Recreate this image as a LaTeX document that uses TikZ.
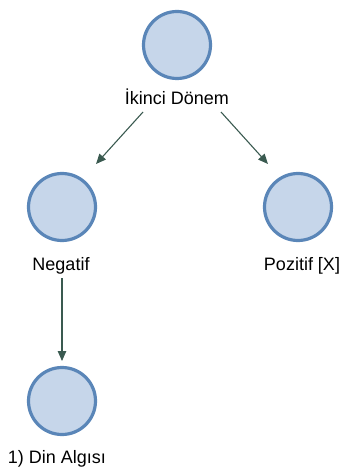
\documentclass[tikz,border=0pt]{standalone}
\usepackage{fontspec}
\setmainfont{Liberation Sans}
\usetikzlibrary{arrows.meta}
\definecolor{cfill}{HTML}{C6D6EA}
\definecolor{cline}{HTML}{5A86B8}
\definecolor{aline}{HTML}{3A5A50}
\tikzset{
  circ/.style={circle, draw=cline, fill=cfill, line width=3.2pt, minimum size=67pt, inner sep=0pt},
  lbl/.style={font=\fontsize{18}{20}\selectfont, text=black, inner sep=0pt},
  conn/.style={draw=aline, line width=1.1pt, -{Triangle[length=10pt,width=8.5pt]}}
}
\begin{document}
\begin{tikzpicture}[x=1pt,y=-1pt]
\useasboundingbox (0,0) rectangle (345,470);
\node[circ] (c1) at (177,45) {};
\node[lbl] (l1) at (177,97) {İkinci Dönem};
\node[circ] (c2) at (62,207) {};
\node[lbl] (l2) at (61,266) {Negatif};
\node[circ] (c3) at (298,207) {};
\node[lbl] (l3) at (302,266) {Pozitif [X]};
\node[circ] (c4) at (62,401) {};
\node[lbl] (l4) at (57,459) {1) Din Algısı};
\coordinate (a1s) at (143,112);
\coordinate (a1e) at (96,164);
\coordinate (a2s) at (221,112);
\coordinate (a2e) at (268,164);
\coordinate (a3s) at (62,278);
\coordinate (a3e) at (62,361);
\draw[conn] (a1s) -- (a1e);
\draw[conn] (a2s) -- (a2e);
\draw[conn] (a3s) -- (a3e);
\end{tikzpicture}
\end{document}
